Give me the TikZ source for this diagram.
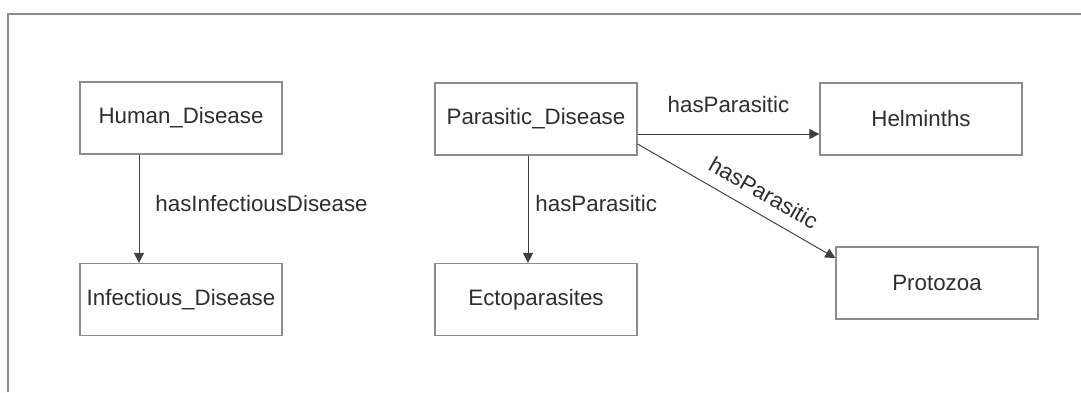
\documentclass[tikz,border=0pt]{standalone}
\usepackage{fontspec}
\setmainfont{Liberation Sans}
\usetikzlibrary{arrows.meta,positioning}
\definecolor{boxgray}{HTML}{8C8C8C}
\definecolor{textgray}{HTML}{2E2E2E}
\definecolor{linkgray}{HTML}{404040}

\begin{document}
\begin{tikzpicture}[>={Triangle[length=2mm,width=2mm]},
  font=\fontsize{12.7}{15}\selectfont, text=textgray,
  box/.style={draw=boxgray,line width=0.7pt,minimum width=4.04cm,minimum height=1.44cm,inner sep=0pt},
  link/.style={->,draw=linkgray,line width=0.55pt},
  lbl/.style={inner sep=0pt}]
  \useasboundingbox (0,0) rectangle (21.62,-7.84);
  \draw[boxgray,line width=0.6pt] (0.16,-7.84) -- (0.16,-0.28) -- (21.62,-0.28);

  % classes
  \node[box] (human) at (3.62,-2.36) {Human\_Disease};
  \node[box] (infect) at (3.62,-5.99) {Infectious\_Disease};
  \node[box] (parasitic) at (10.72,-2.38) {Parasitic\_Disease};
  \node[box] (ecto) at (10.72,-5.99) {Ectoparasites};
  \node[box] (helm) at (18.42,-2.38) {Helminths};
  \node[box] (proto) at (18.74,-5.66) {Protozoa};

  % relations
  \draw[link] ([xshift=-8.4mm]human.south) -- ([xshift=-8.4mm]infect.north)
    node[lbl,pos=0.45,right=0.32cm]{hasInfectiousDisease};
  \draw[link] ([xshift=-1.6mm]parasitic.south) -- ([xshift=-1.6mm]ecto.north)
    node[lbl,pos=0.45,right=0.14cm]{hasParasitic};
  \draw[link] ([yshift=-3mm]parasitic.east) -- ([yshift=-3mm]helm.west)
    node[lbl,midway,above=0.42cm]{hasParasitic};
  \draw[link] ([yshift=-5mm]parasitic.east) -- ([yshift=5mm]proto.west)
    node[lbl,pos=0.585,sloped,above=0.24cm]{hasParasitic};
\end{tikzpicture}
\end{document}
